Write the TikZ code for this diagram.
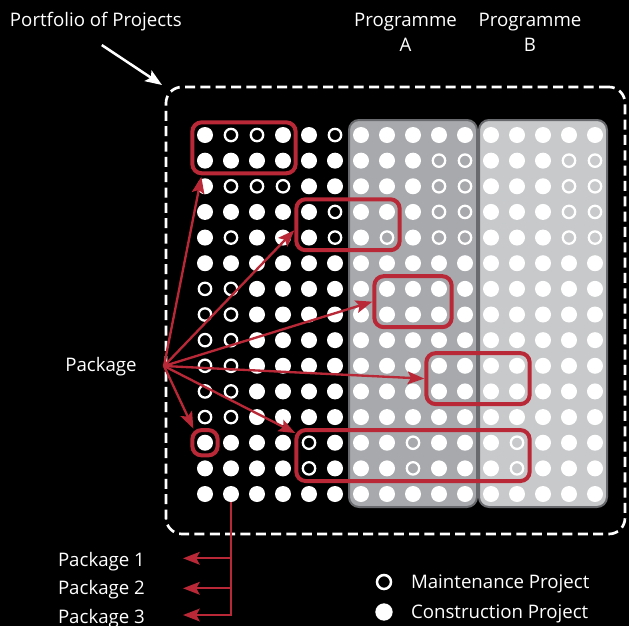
\documentclass[tikz,border=0pt]{standalone}
\usepackage{fontspec}
\setmainfont{Open Sans}
\usetikzlibrary{arrows.meta,calc,fit}
\definecolor{pkgred}{RGB}{185,40,55}
\definecolor{progA}{RGB}{167,169,172}
\definecolor{progB}{RGB}{200,201,203}
\definecolor{progedge}{RGB}{105,106,109}
\begin{document}
\begin{tikzpicture}[x=0.75pt,y=-0.75pt,
  every node/.style={inner sep=0pt, outer sep=0pt},
  label/.style={text=white, font=\fontsize{14}{18.75}\selectfont},
  dot1/.style={circle, fill=white, minimum size=12pt},
  dot0/.style={circle, draw=white, line width=1.7pt, minimum size=9.3pt},
  keyfull/.style={circle, fill=white, minimum size=13pt},
  keyring/.style={circle, draw=white, line width=1.9pt, minimum size=10.5pt},
  panelA/.style={rectangle, rounded corners=7.5pt, fill=progA, draw=progedge,
    line width=1.5pt, minimum width=96pt, minimum height=290.25pt},
  panelB/.style={panelA, fill=progB},
  frame/.style={rectangle, rounded corners=12pt, draw=white, line width=2pt,
    dash pattern=on 7.5pt off 4pt, minimum width=344.25pt, minimum height=335.25pt},
  pkgbox/.style={rectangle, rounded corners=7pt, draw=pkgred, line width=3pt,
    inner sep=9.5pt, outer sep=1.5pt},
  link/.style={draw=pkgred, line width=1.75pt},
  linkarrow/.style={link, -{Stealth[length=12.5pt,width=9.5pt,inset=2.5pt]}},
  pointer/.style={draw=white, line width=1.9pt, -{Stealth[length=12.5pt,width=9.5pt,inset=2.5pt]}},
]
% canvas
\fill[black] (0,0) rectangle (629,626);
\useasboundingbox (0,0) rectangle (629,626);

% portfolio outline and the two programmes
\node[frame] (pf) at (395.5,310.5) {};
\node[panelA] (pa) at (413,313.5) {};
\node[panelB] (pb) at (543,313.5) {};

% project grid: 1 = construction (filled), 0 = maintenance (ring)
\foreach \row [count=\r from 0] in {
 {1,0,0,1,1,0,1,1,1,1,1,1,1,1,1,1},
 {1,1,1,1,1,1,1,1,1,0,0,1,1,1,0,0},
 {1,0,0,0,1,1,1,1,1,0,0,1,1,1,0,0},
 {1,1,1,1,1,0,1,1,1,0,0,1,1,1,0,0},
 {1,0,1,1,1,0,1,0,1,0,0,1,1,1,0,0},
 {1,1,1,1,1,1,1,1,1,1,1,1,1,1,1,1},
 {0,0,1,1,1,1,1,1,1,1,1,1,1,1,1,1},
 {0,0,1,1,1,1,1,1,1,1,1,1,1,1,1,1},
 {0,0,1,1,1,1,1,1,1,1,1,1,1,1,1,1},
 {0,0,1,1,1,1,1,1,1,1,1,1,1,1,1,1},
 {0,0,1,1,1,1,1,1,1,1,1,1,1,1,1,1},
 {0,0,1,1,1,1,1,1,1,1,1,1,1,1,1,1},
 {1,1,1,1,0,1,1,1,0,1,1,1,0,1,1,1},
 {1,1,1,1,0,1,1,1,0,1,1,1,0,1,1,1},
 {1,1,1,1,1,1,1,1,1,1,1,1,1,1,1,1}}
{
  \foreach \v [count=\c from 0] in \row {
    \node[dot\v] (d-\r-\c) at ({205+26*\c},{135+25.643*\r}) {};
  }
}

% packages
\node[pkgbox, fit=(d-0-0.center)(d-1-3.center)] (b1) {};
\node[pkgbox, fit=(d-3-4.center)(d-4-7.center)] (b2) {};
\node[pkgbox, fit=(d-6-7.center)(d-7-9.center)] (b3) {};
\node[pkgbox, fit=(d-9-9.center)(d-10-12.center)] (b4) {};
\node[pkgbox, fit=(d-12-0.center)] (b5) {};
\node[pkgbox, fit=(d-12-4.center)(d-13-12.center)] (b6) {};

% labels
\node[label, anchor=base west] (pp) at (10,26.6) {Portfolio of Projects};
\node[label, align=center, anchor=north] (pgA) at (405.5,13) {Programme\\A};
\node[label, align=center, anchor=north] (pgB) at (530,13) {Programme\\B};
\node[label, anchor=base] (pkg) at (101,371.7) {Package};

% pointer to the portfolio outline
\coordinate (ps) at ($(pp.south)+(6,14)$);
\draw[pointer] (ps) -- ($(pf.north west)+(-4,-2)$);

% package fan
\coordinate (hub) at (164,366);
\draw[linkarrow] (hub) -- ($(b1.south west)+(11,1.5)$);
\draw[linkarrow] (hub) -- ($(b2.west)+(0,5.5)$);
\draw[linkarrow] (hub) -- (b3.west);
\draw[linkarrow] (hub) -- (b4.west);
\draw[linkarrow] (hub) -- ($(b5.north west)+(3,0.5)$);
\draw[linkarrow] (hub) -- ($(b6.north west)+(1,5)$);

% package breakdown
\node[label, anchor=base west] (pk1) at (58,566) {Package 1};
\node[label, anchor=base west] (pk2) at (58,594) {Package 2};
\node[label, anchor=base west] (pk3) at (58,623) {Package 3};
\coordinate (t1) at (183,558.3);
\coordinate (t2) at (183,588.3);
\coordinate (t3) at (183,615);
\draw[linkarrow] (d-14-1.south) |- (t3);
\draw[linkarrow] (d-14-1 |- t1) -- (t1);
\draw[linkarrow] (d-14-1 |- t2) -- (t2);

% legend
\node[keyring] (lgm) at (384,582) {};
\node[keyfull] (lgc) at (384,612) {};
\node[label, anchor=base west] (lgmt) at (411,588.7) {Maintenance Project};
\node[label, anchor=base west] (lgct) at (411,618.7) {Construction Project};
\end{tikzpicture}
\end{document}
